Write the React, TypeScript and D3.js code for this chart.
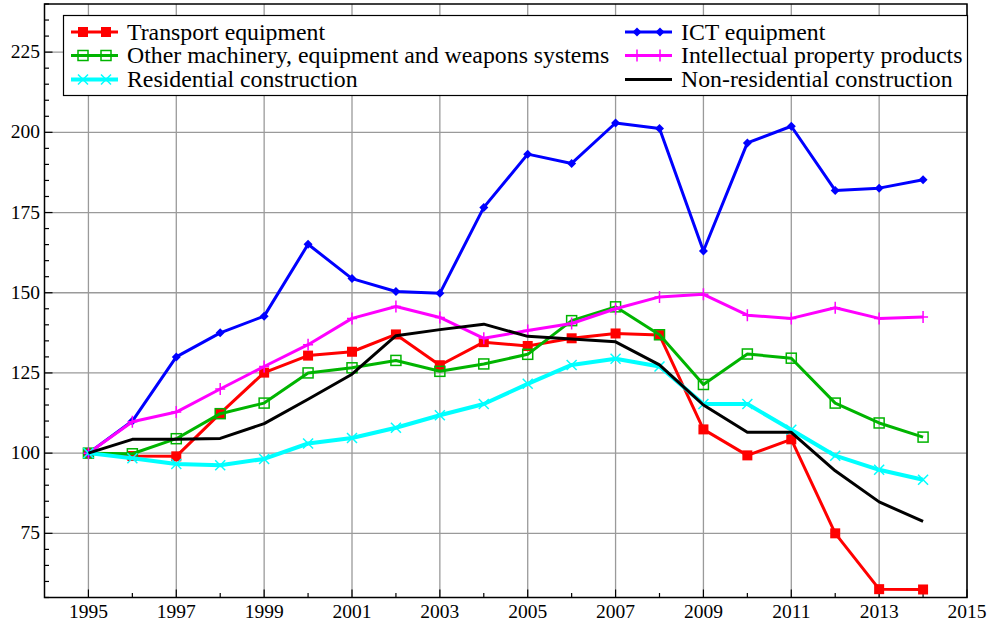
import React from 'react';
import * as d3 from 'd3';

const years = [1995, 1996, 1997, 1998, 1999, 2000, 2001, 2002, 2003, 2004,
  2005, 2006, 2007, 2008, 2009, 2010, 2011, 2012, 2013, 2014];

const transport = [100, 99.1, 99.0, 112.4, 125.1, 130.4, 131.6, 137.0, 127.4, 134.6,
  133.4, 135.8, 137.3, 136.8, 107.4, 99.3, 104.3, 75.0, 57.6, 57.5];
const ict = [100, 110.0, 130.0, 137.5, 142.7, 165.1, 154.4, 150.4, 149.8, 176.6,
  193.2, 190.3, 202.9, 201.2, 163.0, 196.7, 201.9, 181.9, 182.6, 185.2];
const machinery = [100, 99.8, 104.5, 112.3, 115.6, 125.0, 126.6, 128.9, 125.5, 127.8,
  130.8, 141.3, 145.6, 136.9, 121.4, 130.9, 129.6, 115.6, 109.4, 105.0];
const intellectual = [100, 109.8, 112.8, 120.0, 127.0, 133.8, 142.0, 145.7, 142.3, 135.8,
  138.2, 140.4, 145.0, 148.7, 149.5, 143.0, 142.0, 145.3, 142.0, 142.4];
const residential = [100, 98.4, 96.6, 96.2, 98.2, 103.0, 104.7, 107.9, 111.8, 115.3,
  121.6, 127.5, 129.4, 127.0, 115.3, 115.3, 107.3, 99.2, 94.8, 91.7];
const nonResidential = [100, 104.3, 104.3, 104.6, 109.2, 116.8, 124.6, 136.6, 138.5, 140.2,
  136.4, 135.6, 134.7, 127.5, 115.0, 106.5, 106.5, 94.5, 84.8, 78.7];

const seriesNames = [
  'Transport equipment',
  'ICT equipment',
  'Other machinery, equipment and weapons systems',
  'Intellectual property products',
  'Residential construction',
  'Non-residential construction',
];
const seriesValues = [transport, ict, machinery, intellectual, residential, nonResidential];
const seriesColors = ['#ff0000', '#0000ff', '#00b400', '#ff00ff', '#00ffff', '#000000'];
const seriesMarkers = ['square', 'diamond', 'openSquare', 'plus', 'cross', 'none'];
const seriesWidths = [3, 3, 3, 3, 4, 3];

const xMajorTicks = [1995, 1997, 1999, 2001, 2003, 2005, 2007, 2009, 2011, 2013, 2015];
const xMinorTicks = [1996, 1998, 2000, 2002, 2004, 2006, 2008, 2010, 2012, 2014];
const yMajorTicks = [75, 100, 125, 150, 175, 200, 225];

const W = 993, H = 623;
const plot = { left: 44.5, right: 967, top: 4, bottom: 597.5 };
const serif = "'Liberation Serif', 'Times New Roman', serif";

function Marker({ kind, x, y, color }: { kind: string; x: number; y: number; color: string }) {
  if (kind === 'square') {
    return <rect x={x - 5} y={y - 5} width={10} height={10} fill={color} />;
  }
  if (kind === 'openSquare') {
    return <rect x={x - 5} y={y - 5} width={10} height={10} fill="none" stroke={color} strokeWidth={1.5} />;
  }
  if (kind === 'diamond') {
    return <path d={`M${x},${y - 4.5}L${x + 4.5},${y}L${x},${y + 4.5}L${x - 4.5},${y}Z`} fill={color} />;
  }
  if (kind === 'plus') {
    return <path d={`M${x},${y - 6}V${y + 6}M${x - 5},${y}H${x + 5}`} stroke={color} strokeWidth={1.5} />;
  }
  if (kind === 'cross') {
    return <path d={`M${x - 5},${y - 5}L${x + 5},${y + 5}M${x - 5},${y + 5}L${x + 5},${y - 5}`} stroke={color} strokeWidth={1.5} />;
  }
  return null;
}

export default function App() {
  const x = d3.scaleLinear().domain([1994, 2015]).range([plot.left, plot.right]);
  const y = d3.scaleLinear().domain([55, 240]).range([plot.bottom, plot.top]);
  const yMinor = d3.range(55, 241, 5);

  const line = d3.line<number>()
    .x((_, i) => x(years[i]))
    .y(d => y(d));

  // legend layout
  const legend = { x: 63.5, y: 15.5, w: 904, h: 80 };
  const legendCols = [71, 625];
  const legendRows = [32, 55.5, 79.5];

  return (
    <div style={{ position: 'fixed', left: 0, top: 0 }}>
      <svg width={W} height={H} style={{ display: 'block', background: '#fff', fontFamily: serif }}>
        {/* grid */}
        <g stroke="#9a9a9a" strokeWidth={1.3}>
          {xMajorTicks.map(t => (
            <line key={'gx' + t} x1={x(t)} x2={x(t)} y1={plot.top} y2={plot.bottom} />
          ))}
          {yMajorTicks.map(t => (
            <line key={'gy' + t} x1={plot.left} x2={plot.right} y1={y(t)} y2={y(t)} />
          ))}
        </g>

        {/* ticks, inward */}
        <g stroke="#000" strokeWidth={1.2}>
          {xMajorTicks.map(t => (
            <line key={'tx' + t} x1={x(t)} x2={x(t)} y1={plot.bottom} y2={plot.bottom - 8} />
          ))}
          {xMinorTicks.map(t => (
            <line key={'mx' + t} x1={x(t)} x2={x(t)} y1={plot.bottom} y2={plot.bottom - 4.5} />
          ))}
          {yMinor.map(t => (
            <line key={'ty' + t} x1={plot.left} x2={plot.left + (t % 25 === 0 ? 8 : 4.5)} y1={y(t)} y2={y(t)} />
          ))}
        </g>

        {/* frame */}
        <rect x={plot.left} y={plot.top} width={plot.right - plot.left} height={plot.bottom - plot.top}
          fill="none" stroke="#000" strokeWidth={1.5} />

        {/* series */}
        {seriesValues.map((vals, si) => (
          <g key={'s' + si}>
            <path d={line(vals) || ''} fill="none" stroke={seriesColors[si]} strokeWidth={seriesWidths[si]}
              strokeLinejoin="round" />
            {vals.map((v, i) => (
              <Marker key={i} kind={seriesMarkers[si]} x={x(years[i])} y={y(v)} color={seriesColors[si]} />
            ))}
          </g>
        ))}

        {/* axis labels */}
        <g style={{ fontFamily: serif, fontSize: '19.5px' }} fill="#000">
          {yMajorTicks.map(t => (
            <text key={'ly' + t} x={40} y={y(t) + 6} textAnchor="end">{t}</text>
          ))}
          {xMajorTicks.map(t => (
            <text key={'lx' + t} x={x(t)} y={617.5} textAnchor="middle">{t}</text>
          ))}
        </g>

        {/* legend */}
        <rect x={legend.x} y={legend.y} width={legend.w} height={legend.h} fill="#fff" stroke="#000" strokeWidth={1.2} />
        <g style={{ fontFamily: serif, fontSize: '23.8px' }}>
          {seriesNames.map((name, si) => {
            const col = si % 2;
            const row = Math.floor(si / 2);
            const lx = legendCols[col];
            const ly = legendRows[row];
            return (
              <g key={'lg' + si}>
                <line x1={lx} x2={lx + 47} y1={ly} y2={ly} stroke={seriesColors[si]} strokeWidth={seriesWidths[si]} />
                <Marker kind={seriesMarkers[si]} x={lx + 12} y={ly} color={seriesColors[si]} />
                <Marker kind={seriesMarkers[si]} x={lx + 35} y={ly} color={seriesColors[si]} />
                <text x={lx + 56} y={ly + 7.5} fill="#000">{name}</text>
              </g>
            );
          })}
        </g>
      </svg>
    </div>
  );
}
